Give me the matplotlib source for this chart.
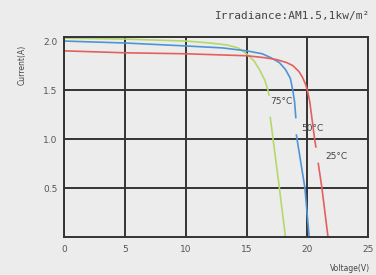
import numpy as np
import matplotlib

matplotlib.use("Agg")
import matplotlib.pyplot as plt

nan = np.nan

# I-V curves at three cell temperatures (gaps where the labels sit)
v_75 = [0, 5, 10, 12, 13.4, 14.3, 15.0, 15.6, 16.1, 16.5, 16.75, 16.85, nan, 16.95, 17.7, 18.2]
i_75 = [2.03, 2.02, 2.0, 1.98, 1.96, 1.93, 1.87, 1.80, 1.70, 1.60, 1.50, 1.45, nan, 1.22, 0.5, 0.0]

v_50 = [0, 5, 10, 13, 15, 16.3, 17.0, 17.7, 18.2, 18.6, 18.8, 18.95, 19.05, nan, 19.1, 19.8, 20.15]
i_50 = [2.0, 1.98, 1.95, 1.93, 1.90, 1.87, 1.83, 1.78, 1.71, 1.62, 1.50, 1.38, 1.22, nan, 1.04, 0.5, 0.0]

v_25 = [0, 5, 10, 15, 16.5, 17.5, 18.3, 18.8, 19.3, 19.6, 19.85, 20.0, 20.2, 20.4, 20.6, 20.7, nan, 20.9, 21.2, 21.7]
i_25 = [1.90, 1.88, 1.87, 1.85, 1.83, 1.81, 1.78, 1.75, 1.69, 1.63, 1.56, 1.50, 1.38, 1.19, 1.0, 0.92, nan, 0.75, 0.5, 0.0]

labels = ["75°C", "50°C", "25°C"]
label_pos = [(17.9, 1.38), (20.4, 1.11), (22.4, 0.82)]

x_ticks = [0, 5, 10, 15, 20, 25]
y_ticks = [0.5, 1.0, 1.5, 2.0]

bg = "#ececec"
fig = plt.figure(figsize=(3.76, 2.75), dpi=100, facecolor=bg)
ax = fig.add_axes([0.171, 0.138, 0.808, 0.727], facecolor=bg)

ax.plot(v_75, i_75, color="#b5d86a", lw=1.2)
ax.plot(v_50, i_50, color="#4f94d4", lw=1.2)
ax.plot(v_25, i_25, color="#e2605e", lw=1.2)

for txt, (x, y) in zip(labels, label_pos):
    ax.text(x, y, txt, fontsize=6.5, color="#444444", ha="center", va="center")

ax.set_xlim(0, 25)
ax.set_ylim(0, 2.04)
ax.set_xticks(x_ticks)
ax.set_yticks(y_ticks)
ax.set_xticklabels([str(t) for t in x_ticks])
ax.set_yticklabels([f"{t:.1f}" for t in y_ticks])
ax.tick_params(axis="y", length=0, labelsize=6.5, colors="#555555", pad=5)
ax.tick_params(axis="x", length=0, labelsize=6.5, colors="#555555", pad=6)
ax.grid(True, color="#333333", lw=1.4)
ax.get_ygridlines()[-1].set_visible(False)
for s in ax.spines.values():
    s.set_color("#333333")
    s.set_linewidth(1.4)

fig.text(0.984, 0.94, "Irradiance:AM1.5,1kw/m²", ha="right", va="center",
         fontsize=8, family="DejaVu Sans Mono", color="#444444")
fig.text(0.06, 0.765, "Current(A)", rotation=90, ha="center", va="center",
         fontsize=5.5, color="#444444")
fig.text(0.984, 0.025, "Voltage(V)", ha="right", va="center",
         fontsize=5.5, color="#444444")

fig.savefig("out.png", dpi=100, facecolor=bg)
